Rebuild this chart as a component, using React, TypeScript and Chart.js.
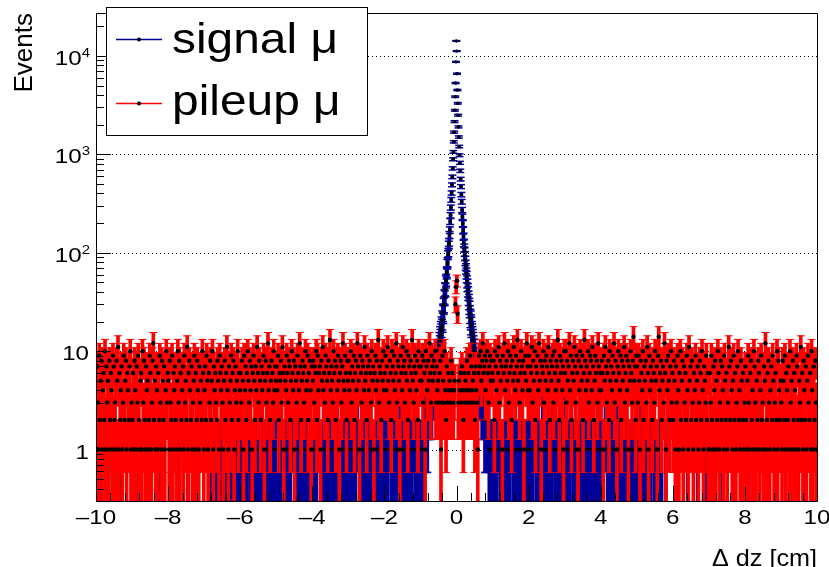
import React, { useEffect, useRef } from 'react';
import { Chart, registerables } from 'chart.js';

Chart.register(...registerables);

// ---------- axes / labels ----------
const X_MIN = -10;
const X_MAX = 10;
const Y_MIN = 0.3;
const Y_MAX = 27300;
const BIN_WIDTH = 0.02;
const PEAK_START = -0.6;
const PEAK_BIN_WIDTH = 0.01;

const xTickValues = [-10, -8, -6, -4, -2, 0, 2, 4, 6, 8, 10];
const xTickLabels = ['\u201310', '\u20138', '\u20136', '\u20134', '\u20132', '0', '2', '4', '6', '8', '10'];
const yTickValues = [1, 10, 100, 1000, 10000];
const yTickBases = ['1', '10', '10', '10', '10'];
const yTickExponents = ['', '', '2', '3', '4'];
const xTitle = '\u0394 dz [cm]';
const yTitle = 'Events';
const legendLabels = ['signal \u03bc', 'pileup \u03bc'];

// ---------- data: pileup counts, 0.02 cm bins from -10 to 10 ----------
const pileupCounts = [
  1,7,3,1,9,2,5,8,1,4,6,2,10,1,7,3,5,1,8,2,6,4,1,9,7,2,3,1,8,5,11,1,6,2,4,7,1,3,9,2,5,8,1,6,4,2,7,10,1,3,
  2,6,1,8,4,1,7,3,9,2,1,5,6,1,10,3,8,2,1,7,4,5,1,2,9,6,1,3,8,12,2,5,1,7,4,1,6,2,9,3,1,8,5,2,7,1,4,10,3,6,
  5,1,8,3,2,9,1,6,4,7,2,1,5,10,3,8,1,6,2,4,7,1,9,3,5,2,11,1,6,8,4,2,7,1,3,5,9,1,6,2,8,4,1,7,3,5,2,10,6,1,
  4,7,2,9,5,1,6,3,8,2,5,10,1,7,4,6,3,2,8,5,1,9,6,4,7,3,1,5,8,2,6,11,4,1,7,3,5,9,2,6,8,1,4,7,3,5,10,2,6,4,
  6,3,8,5,1,9,4,7,2,6,10,5,3,8,4,7,1,6,9,5,2,7,4,11,6,3,8,5,2,7,4,6,9,1,5,8,3,6,12,4,7,2,5,8,6,3,10,4,7,5,
  7,4,9,2,6,5,8,3,11,6,1,7,5,4,9,6,3,8,7,2,5,10,6,4,8,1,7,5,3,9,6,4,12,7,2,5,8,6,3,7,10,4,5,9,2,6,8,4,1,7,
  5,8,3,7,6,10,2,9,4,6,7,1,8,5,11,4,6,3,9,7,5,2,8,6,13,4,7,5,3,10,6,8,2,7,4,9,5,1,6,8,3,7,12,5,4,9,6,2,8,5,
  8,4,6,10,3,7,5,9,2,6,8,4,12,7,5,1,9,6,3,8,7,4,11,5,6,2,9,7,4,8,6,3,10,5,7,1,6,9,4,8,5,13,3,7,6,2,8,5,10,4,
  6,9,4,7,11,5,3,8,6,2,10,7,5,9,4,6,12,3,8,7,5,1,9,6,4,11,7,8,3,6,10,5,2,9,7,4,8,6,13,5,3,7,9,6,4,8,2,10,7,5,
  7,5,9,3,8,6,1,10,7,4,8,5,12,6,3,9,7,5,8,6,10,3,7,4,5,3,6,8,1,3,9,5,3,10,4,2,7,3,6,4,5,3,8,4,6,3,4,5,30,45,
  52,24,3,5,4,6,3,7,4,2,6,3,5,4,8,3,6,4,9,3,7,4,5,3,6,2,7,4,3,1,6,9,7,10,5,8,12,6,7,9,4,8,10,6,3,7,9,5,8,6,
  5,8,2,10,7,4,9,6,11,3,8,5,7,1,9,6,12,4,7,8,5,10,3,6,9,7,2,8,5,11,6,4,9,7,13,5,8,3,6,10,7,4,8,1,6,9,5,12,7,4,
  9,4,7,6,11,3,8,5,10,2,7,6,9,4,12,5,8,1,7,6,10,3,8,5,9,7,4,11,6,2,8,5,7,9,3,10,6,4,8,7,13,5,2,9,6,8,4,7,1,10,
  6,10,3,8,5,7,12,4,9,2,6,8,5,11,7,3,9,6,1,8,4,10,7,5,9,2,6,13,8,4,7,5,10,3,6,9,8,4,11,7,2,5,9,6,8,3,12,7,4,6,
  4,8,6,1,9,5,11,7,3,6,8,2,10,5,7,4,9,6,12,3,8,5,1,7,10,6,4,9,2,8,5,7,11,3,6,9,4,8,1,7,5,10,6,3,8,14,5,7,2,9,
  7,3,9,5,1,8,6,4,10,2,7,5,8,3,11,6,1,9,4,7,5,2,8,6,3,10,5,7,1,9,14,4,6,8,2,5,7,3,12,6,1,8,4,9,5,2,7,10,3,6,
  2,8,5,1,7,3,9,4,1,6,10,2,5,8,1,7,3,6,2,9,4,1,11,5,7,2,8,3,1,6,4,9,2,5,7,1,3,8,6,2,10,4,1,7,5,3,9,2,6,1,
  1,6,3,9,2,1,7,4,8,1,5,2,10,6,1,3,8,2,7,4,1,9,5,2,6,1,3,11,7,2,8,4,1,5,9,2,6,1,3,7,10,2,4,1,8,5,2,6,1,3,
  7,2,1,5,9,3,1,6,8,2,4,1,10,7,3,1,5,2,8,6,1,4,9,2,3,1,7,5,12,1,2,6,8,3,1,4,7,2,9,5,1,3,6,2,10,1,8,4,2,5,
  3,1,8,5,2,9,1,6,4,2,7,1,10,3,5,1,8,2,6,4,1,9,7,2,1,5,3,11,2,6,1,8,4,2,7,1,5,9,3,2,6,1,10,4,1,7,2,8,3,1,
];

// ---------- data: signal counts outside the peak, 0.02 cm bins from -10 to 10 ----------
const signalCounts = [
  0,0,0,0,1,0,0,0,0,0,0,0,0,0,0,0,0,1,0,0,0,0,0,0,0,0,0,0,0,0,0,0,0,1,0,0,0,0,0,0,0,0,0,0,0,0,0,0,0,0,
  0,0,0,0,0,0,0,0,1,0,0,0,0,0,0,0,0,0,0,0,0,0,0,0,1,0,0,0,0,0,0,0,0,0,0,0,0,0,1,0,0,0,0,0,0,0,0,0,0,0,
  0,0,0,1,0,0,0,0,0,0,0,0,0,0,0,1,0,0,0,0,0,0,0,0,0,0,0,1,0,0,0,0,0,0,0,0,0,0,0,0,1,0,0,0,0,0,0,0,0,0,
  0,0,0,0,0,0,1,0,0,0,1,0,0,1,0,1,0,0,1,0,0,1,1,0,0,1,0,2,0,0,1,0,1,0,0,1,0,0,1,1,0,0,1,0,1,0,0,2,0,1,
  0,1,0,0,1,1,0,0,1,0,2,0,0,1,0,0,1,1,0,0,1,0,0,1,0,2,0,1,0,0,1,0,0,1,1,0,0,1,0,0,2,1,0,0,1,0,1,0,0,1,
  1,0,0,1,0,2,0,1,0,0,1,1,0,0,1,0,0,1,0,1,0,0,2,0,0,1,1,0,0,1,0,1,0,0,1,0,0,2,1,0,0,1,0,0,1,1,0,0,1,0,
  0,0,1,0,1,1,0,0,2,0,0,1,0,1,0,0,1,0,0,1,1,0,0,1,0,0,2,0,1,0,0,1,1,0,0,1,0,0,1,0,2,0,0,1,0,1,1,0,0,1,
  1,0,1,0,0,1,0,0,1,1,0,0,2,0,0,1,0,1,0,0,1,0,0,1,1,0,0,1,0,2,0,0,1,0,1,0,0,1,1,0,0,1,0,0,2,0,1,0,0,1,
  0,1,0,0,1,0,2,0,0,1,1,0,0,1,0,0,1,0,1,0,0,2,0,0,1,1,0,0,1,0,0,1,0,1,0,0,1,1,0,0,2,0,1,0,0,1,0,0,1,0,
  1,0,1,0,1,2,3,2,3,2,3,4,3,3,4,3,4,5,4,5,0,0,0,0,0,0,0,0,0,0,0,0,0,0,0,0,0,0,0,0,0,0,0,0,0,0,0,0,0,0,
  0,0,0,0,0,0,0,0,0,0,0,0,0,0,0,0,0,0,0,0,0,0,0,0,0,0,0,0,0,0,5,4,5,4,4,3,4,3,3,2,3,2,3,2,2,1,0,1,0,1,
  1,0,0,1,0,1,0,0,2,0,1,1,0,0,1,0,0,1,0,1,0,0,1,1,0,0,2,0,1,0,0,1,0,0,1,1,0,0,1,0,2,0,0,1,0,1,0,0,1,1,
  0,1,1,0,0,1,0,2,0,0,1,0,1,0,0,1,1,0,0,2,0,1,0,0,1,0,0,1,1,0,0,1,0,2,0,0,1,0,1,0,0,1,1,0,0,1,0,0,2,0,
  1,0,0,1,1,0,0,1,0,2,0,0,1,0,1,0,0,1,1,0,0,1,0,0,2,0,1,0,0,1,1,0,0,1,0,0,1,0,2,0,1,0,0,1,1,0,0,1,0,0,
  0,1,0,1,0,0,2,0,0,1,1,0,0,1,0,0,1,0,1,0,0,2,1,0,0,1,0,0,1,1,0,0,1,0,0,2,0,1,0,0,1,1,0,0,1,0,0,1,0,1,
  1,0,0,1,0,2,0,1,0,0,1,1,0,0,1,0,0,1,0,1,0,0,2,0,1,0,0,1,1,0,0,1,0,0,1,0,0,0,0,0,1,0,0,0,0,0,0,0,0,0,
  0,0,0,0,0,0,0,1,0,0,0,0,0,0,0,0,0,0,0,0,1,0,0,0,0,0,0,0,0,0,0,0,0,0,1,0,0,0,0,0,0,0,0,0,0,0,1,0,0,0,
  0,0,0,0,1,0,0,0,0,0,0,0,0,0,0,0,0,0,0,1,0,0,0,0,0,0,0,0,0,0,0,0,0,0,0,0,1,0,0,0,0,0,0,0,0,0,0,0,0,0,
  0,0,0,0,0,0,0,0,0,0,0,1,0,0,0,0,0,0,0,0,0,0,0,0,0,0,0,1,0,0,0,0,0,0,0,0,0,0,0,0,0,0,1,0,0,0,0,0,0,0,
  0,0,0,0,0,0,1,0,0,0,0,0,0,0,0,0,0,0,0,0,0,0,0,0,0,0,0,0,0,0,0,1,0,0,0,0,0,0,0,0,0,0,0,0,0,0,0,0,0,0,
];

// ---------- data: signal peak, 0.01 cm bins from -0.6 to 0.6 ----------
const signalPeakCounts = [
  5,5,6,5,7,6,8,7,9,8,10,9,12,11,14,13,16,15,18,17,
  21,20,25,24,29,30,36,35,43,42,51,53,62,64,77,80,95,101,120,128,
  152,170,208,240,288,345,405,490,590,720,890,1060,1340,1680,2150,2800,3850,5300,8700,14200,
  11200,6600,4500,3300,2500,1900,1500,1200,980,820,680,560,470,390,330,272,232,198,168,146,
  126,112,102,93,83,75,69,62,57,51,47,42,39,35,32,29,27,24,22,21,
  19,18,16,15,14,13,12,11,10,10,9,8,8,7,7,6,6,5,5,4,
];

// ---------- styling ----------
const BLUE = '#000099';
const RED = '#ff0000';
const FONT = '"Liberation Sans", Arial, Helvetica, sans-serif';

type Bin = { x: number; n: number };
const toBins = (counts: number[], start: number, w: number): Bin[] =>
  counts.map((n, i) => ({ x: start + w * (i + 0.5), n })).filter((b) => b.n > 0);

const errorBars = (bins: Bin[]) =>
  bins.map((b) => ({ x: b.x, y: [Math.max(b.n - Math.sqrt(b.n), 1e-3), b.n + Math.sqrt(b.n)] }));
const errorCaps = (bins: Bin[]) =>
  bins.flatMap((b) => {
    const e = Math.sqrt(b.n);
    const out = [{ x: b.x, y: b.n + e }];
    if (b.n - e > 0) out.push({ x: b.x, y: b.n - e });
    return out;
  });
const markers = (bins: Bin[]) => bins.map((b) => ({ x: b.x, y: b.n }));

function drawText(
  ctx: CanvasRenderingContext2D,
  s: string,
  x: number,
  y: number,
  size: number,
  align: CanvasTextAlign,
  sx: number
) {
  ctx.save();
  ctx.translate(x, y);
  ctx.scale(sx, 1);
  ctx.font = `${size}px ${FONT}`;
  ctx.textAlign = align;
  ctx.textBaseline = 'alphabetic';
  ctx.fillStyle = '#000';
  ctx.fillText(s, 0, 0);
  ctx.restore();
}

const rootPlugin = {
  id: 'rootStyle',
  beforeDatasetsDraw(chart: any) {
    const { ctx, chartArea: a, scales } = chart;
    ctx.save();
    ctx.strokeStyle = '#000';
    ctx.lineWidth = 1;
    ctx.setLineDash([1, 3]);
    for (const v of yTickValues) {
      const y = Math.round(scales.y.getPixelForValue(v)) + 0.5;
      ctx.beginPath();
      ctx.moveTo(a.left, y);
      ctx.lineTo(a.right, y);
      ctx.stroke();
    }
    ctx.restore();
  },
  afterDatasetsDraw(chart: any) {
    const { ctx, chartArea: a, scales } = chart;
    ctx.save();
    ctx.strokeStyle = '#000';
    ctx.lineWidth = 1;
    ctx.setLineDash([]);
    ctx.beginPath();
    ctx.moveTo(a.left + 0.5, a.top + 0.5);
    ctx.lineTo(a.right + 0.5, a.top + 0.5);
    ctx.lineTo(a.right + 0.5, a.bottom + 0.5);
    ctx.lineTo(a.left + 0.5, a.bottom + 0.5);
    ctx.closePath();
    ctx.stroke();
    ctx.beginPath();
    for (let e = -1; e <= 4; e++) {
      for (let m = 1; m <= 9; m++) {
        const v = m * Math.pow(10, e);
        if (v < Y_MIN || v > Y_MAX) continue;
        const y = Math.round(scales.y.getPixelForValue(v)) + 0.5;
        const len = m === 1 ? 15 : 8;
        ctx.moveTo(a.left, y);
        ctx.lineTo(a.left + len, y);
      }
    }
    for (let i = 0; i <= 50; i++) {
      const v = X_MIN + 0.4 * i;
      const x = Math.round(scales.x.getPixelForValue(v)) + 0.5;
      const len = i % 5 === 0 ? 15 : 8;
      ctx.moveTo(x, a.bottom);
      ctx.lineTo(x, a.bottom - len);
    }
    ctx.stroke();
    ctx.restore();
  },
  afterDraw(chart: any) {
    const { ctx, scales } = chart;
    const LABEL = 21;
    const SX = 1.15;
    xTickValues.forEach((v, i) => {
      const x = scales.x.getPixelForValue(v);
      drawText(ctx, xTickLabels[i], x, 524, LABEL, 'center', SX);
    });
    yTickValues.forEach((v, i) => {
      const y = scales.y.getPixelForValue(v);
      const base = yTickBases[i];
      const ex = yTickExponents[i];
      const right = 90;
      if (!ex) {
        drawText(ctx, base, right - 1, y + 9, LABEL, 'right', SX);
      } else {
        ctx.save();
        ctx.font = `13px ${FONT}`;
        const we = ctx.measureText(ex).width * SX;
        ctx.restore();
        drawText(ctx, ex, right - we, y + 1, 13, 'left', SX);
        drawText(ctx, base, right - we, y + 9, LABEL, 'right', SX);
      }
    });
    drawText(ctx, xTitle, 817, 566, 24, 'right', 1.05);
    ctx.save();
    ctx.translate(32, 13);
    ctx.rotate(-Math.PI / 2);
    ctx.font = `26px ${FONT}`;
    ctx.textAlign = 'right';
    ctx.textBaseline = 'alphabetic';
    ctx.fillStyle = '#000';
    ctx.fillText(yTitle, 0, 0);
    ctx.restore();
    // legend
    ctx.save();
    ctx.fillStyle = '#fff';
    ctx.fillRect(106.5, 7.5, 261, 128);
    ctx.strokeStyle = '#000';
    ctx.lineWidth = 1;
    ctx.strokeRect(106.5, 7.5, 261, 128);
    const rows = [
      { y: 39.5, c: BLUE, base: 53 },
      { y: 103.5, c: RED, base: 115 },
    ];
    rows.forEach((r, i) => {
      ctx.fillStyle = r.c;
      ctx.fillRect(116, r.y - 0.75, 46, 1.5);
      ctx.fillStyle = '#000';
      ctx.beginPath();
      ctx.arc(139, r.y, 2, 0, Math.PI * 2);
      ctx.fill();
      drawText(ctx, legendLabels[i], 172, r.base, 42, 'left', 1.14);
    });
    ctx.restore();
  },
};

export default function App() {
  const ref = useRef<HTMLCanvasElement>(null);
  useEffect(() => {
    const canvas = ref.current;
    if (!canvas) return;
    const signalBins = [
      ...toBins(signalCounts, X_MIN, BIN_WIDTH),
      ...toBins(signalPeakCounts, PEAK_START, PEAK_BIN_WIDTH),
    ];
    const pileupBins = toBins(pileupCounts, X_MIN, BIN_WIDTH);
    const chart = new Chart(canvas, {
      type: 'scatter',
      data: {
        datasets: [
          {
            type: 'bar',
            label: 'signal err',
            data: errorBars(signalBins) as any,
            backgroundColor: BLUE,
            barThickness: 3,
            grouped: false,
            clip: 0,
            order: 6,
          } as any,
          {
            type: 'scatter',
            label: 'signal caps',
            data: errorCaps(signalBins),
            pointStyle: 'line',
            pointRadius: 4,
            pointBorderColor: BLUE,
            pointBorderWidth: 1.5,
            clip: 0,
            order: 5,
          } as any,
          {
            type: 'scatter',
            label: 'signal',
            data: markers(signalBins),
            pointStyle: 'circle',
            pointRadius: 1.7,
            pointBackgroundColor: '#000',
            pointBorderWidth: 0,
            clip: 0,
            order: 4,
          } as any,
          {
            type: 'bar',
            label: 'pileup err',
            data: errorBars(pileupBins) as any,
            backgroundColor: RED,
            barThickness: 3,
            grouped: false,
            clip: 0,
            order: 3,
          } as any,
          {
            type: 'scatter',
            label: 'pileup caps',
            data: errorCaps(pileupBins),
            pointStyle: 'line',
            pointRadius: 4,
            pointBorderColor: RED,
            pointBorderWidth: 1,
            clip: 0,
            order: 2,
          } as any,
          {
            type: 'scatter',
            label: 'pileup',
            data: markers(pileupBins),
            pointStyle: 'circle',
            pointRadius: 2.2,
            pointBackgroundColor: '#000',
            pointBorderWidth: 0,
            clip: 0,
            order: 1,
          } as any,
        ],
      },
      options: {
        animation: false,
        responsive: false,
        devicePixelRatio: 1,
        events: [],
        layout: { padding: { left: 96, right: 12, top: 13, bottom: 66 } },
        plugins: { legend: { display: false }, tooltip: { enabled: false } },
        scales: {
          x: { type: 'linear', min: X_MIN, max: X_MAX, display: false, offset: false },
          y: { type: 'logarithmic', min: Y_MIN, max: Y_MAX, display: false, offset: false },
        },
      },
      plugins: [rootPlugin],
    } as any);
    return () => chart.destroy();
  }, []);
  return (
    <div style={{ position: 'absolute', left: 0, top: 0, width: 829, height: 567, background: '#fff' }}>
      <canvas ref={ref} width={829} height={567} style={{ display: 'block', width: 829, height: 567 }} />
    </div>
  );
}
